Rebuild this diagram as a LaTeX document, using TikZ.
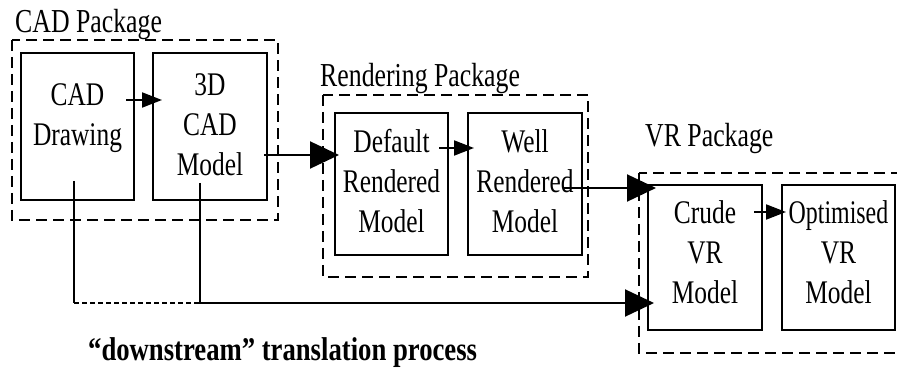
\documentclass[tikz,border=0pt]{standalone}
\usepackage{fontspec}
\setmainfont{Liberation Serif}[FakeStretch=0.77]
\usetikzlibrary{arrows.meta,calc}
\begin{document}
\begin{tikzpicture}[x=1pt,y=-1pt,
  box/.style={draw,line width=2pt,inner sep=0pt,align=center,
    minimum width=113pt,font=\fontsize{33}{40}\selectfont},
  pkg/.style={draw,line width=2pt,dash pattern=on 11pt off 6pt},
  title/.style={anchor=base west,inner sep=0pt,font=\fontsize{33.5}{38}\selectfont},
  conn/.style={line width=2pt},
  smallarr/.style={conn,-{Triangle[length=20pt,width=15pt]}},
  bigarr/.style={conn,-{Triangle[length=29pt,width=27pt]}},
  dotln/.style={line width=2pt,dash pattern=on 5pt off 3pt}]
\useasboundingbox (0,0) rectangle (897,371);
% package frames
\draw[pkg] (12,40) rectangle (278,220);
\draw[pkg] (323,95) rectangle (588,277);
\draw[pkg] (639,173) rectangle (905,353);
\node[title] (tcad) at (15,33) {CAD Package};
\node[title] (tren) at (320,87) {Rendering Package};
\node[title] (tvr) at (645,147) {VR Package};
% boxes
\node[box,minimum width=113pt,minimum height=147pt,text depth=23pt] (cad) at (77.5,126.5) {CAD\\Drawing};
\node[box,minimum width=114pt,minimum height=147pt,text depth=4pt] (m3d) at (210,126.5) {3D\\CAD\\Model};
\node[box,minimum width=113pt,minimum height=142pt,text depth=6pt] (defr) at (391.5,184) {Default\\Rendered\\Model};
\node[box,minimum width=114pt,minimum height=142pt,text depth=6pt] (well) at (525,184) {Well\\Rendered\\Model};
\node[box,minimum width=114pt,minimum height=145pt,text depth=10pt] (crude) at (705,257.5) {Crude\\VR\\Model};
\node[box,minimum width=113pt,minimum height=145pt,text depth=10pt] (opt) at (838.5,257.5) {\scalebox{0.94}[1]{Optimised}\\VR\\Model};
% connectors
\draw[smallarr] ([shift={(-9,-26.5)}]cad.east) -- ([shift={(10,-26.5)}]m3d.west);
\draw[bigarr] ([shift={(-4,28.5)}]m3d.east) -- ([shift={(5,-29)}]defr.west);
\draw[smallarr] ([shift={(-10,-36)}]defr.east) -- ([shift={(7,-36)}]well.west);
\draw[bigarr] ([shift={(-19,4)}]well.east) -- ([shift={(9,-69.5)}]crude.west);
\draw[smallarr] ([shift={(-9,-45.5)}]crude.east) -- ([shift={(5,-45.5)}]opt.west);
% downstream translation
\coordinate (ds) at ([shift={(-3.5,-20)}]cad.south);
\coordinate (ms) at ([shift={(-10,-18)}]m3d.south);
\coordinate (ct) at ([shift={(7,45.5)}]crude.west);
\draw[conn] (ds) -- (ds |- ct);
\draw[dotln] (ds |- ct) -- (ms |- ct);
\draw[bigarr] (ms) |- (ct);
\node[anchor=base west,inner sep=0pt,font=\bfseries\fontsize{33}{38}\selectfont] (dtext) at (88,360) {\scalebox{1.05}[1]{“downstream” translation process}};
\end{tikzpicture}
\end{document}
